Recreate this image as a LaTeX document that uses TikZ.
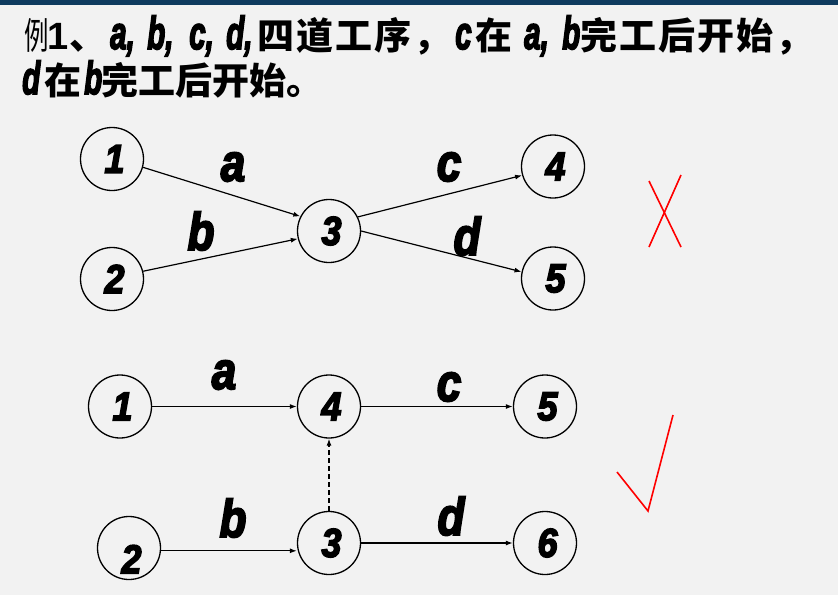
\documentclass[tikz,border=0pt]{standalone}
\usepackage{fontspec}
\usepackage{graphicx}
\usetikzlibrary{arrows.meta}
\newfontfamily\cjk{Noto Sans CJK SC}
\newfontface\labf{Liberation Sans Bold Italic}[FakeBold=4]
\newfontface\arialb{Liberation Sans Bold}
\definecolor{bg}{HTML}{F2F2F2}
\definecolor{barc}{HTML}{0F3B5F}
\newcommand\glab[1]{\scalebox{1}[1.2]{\fontsize{44}{44}\labf #1}}
\newcommand\tlat[1]{\scalebox{0.8}[1.25]{\fontsize{37}{37}\labf #1}}
\newcommand\cgap{\hspace{2pt}}
\newcommand\dg[1]{\hspace*{5pt}\scalebox{1}[1.12]{#1}}
\tikzset{
  ev/.style={circle, draw, line width=1.3pt, minimum size=63pt, inner sep=0pt,
    font=\fontsize{36}{36}\labf},
  arr/.style={line width=1.2pt, -{Latex[length=7pt,width=5pt]}},
  dsh/.style={line width=1.2pt, dash pattern=on 5pt off 3pt, -{Latex[length=7pt,width=5pt]}},
  lab/.style={inner sep=0pt},
  ttl/.style={anchor=base west, inner sep=0pt},
  cjkr/.style={ttl, font=\fontsize{37}{37}\cjk},
  cjkb/.style={ttl, font=\fontsize{37}{37}\cjk\bfseries},
  redmark/.style={red, line width=1.6pt}
}
\begin{document}
\begin{tikzpicture}[x=1pt,y=-1pt]
\fill[bg] (0,0) rectangle (838,595);
\useasboundingbox (0,0) rectangle (838,595);
\fill[barc] (0,0) rectangle (838,4.5);

% title line 1
\node[cjkr] (h1) at (24,49) {\scalebox{0.66}[1]{例}};
\node[ttl, font=\fontsize{38}{38}\arialb] (h2) at (47,49) {1};
\node[cjkb] (h3) at (69,49) {、};
\node[ttl] (h4) at (110,49) {\tlat{a,}};
\node[ttl] (h5) at (147,49) {\tlat{b,}};
\node[ttl] (h6) at (189,49) {\tlat{c,}};
\node[ttl] (h7) at (226,49) {\tlat{d,}};
\node[cjkb] (h8) at (257,49) {四\cgap 道\cgap 工\cgap 序\cgap ，};
\node[ttl] (h9) at (455,49) {\tlat{c}};
\node[cjkb] (h10) at (475,49) {在};
\node[ttl] (h11) at (524,49) {\tlat{a,}};
\node[ttl] (h12) at (562,49) {\tlat{b}};
\node[cjkb] (h13) at (580,49) {完\cgap 工\cgap 后\cgap 开\cgap 始\cgap ，};
% title line 2
\node[ttl] (g1) at (22,94) {\tlat{d}};
\node[cjkb] (g2) at (44,94) {在};
\node[ttl] (g3) at (84,94) {\tlat{b}};
\node[cjkb] (g4) at (101,94) {完工后开始。};

% top network
\node[ev] (t1) at (112,159) {\dg{1}};
\node[ev] (t2) at (112,279) {\dg{2}};
\node[ev] (t3) at (329,231) {\dg{3}};
\node[ev] (t4) at (553,166.5) {\dg{4}};
\node[ev] (t5) at (553,278.5) {\dg{5}};
\draw[arr] (t1.-15) -- (t3.153);
\draw[arr] (t2.14) -- (t3.194);
\draw[arr] (t3.26) -- (t4.196);
\draw[arr] (t3.0) -- (t5.168);
\node[lab] (la1) at (233,167) {\glab{a}};
\node[lab] (lb1) at (201,231) {\glab{b}};
\node[lab] (lc1) at (449,167) {\glab{c}};
\node[lab] (ld1) at (467,236) {\glab{d}};

% bottom network
\node[ev] (b1) at (120,406.5) {\dg{1}};
\node[ev] (b4) at (329,406.5) {\dg{4}};
\node[ev] (b5) at (545,406.5) {\dg{5}};
\node[ev] (b2) at (129,548) {\dg{\raisebox{-10pt}[\height][\depth]{2}}};
\node[ev] (b3) at (329,543) {\dg{3}};
\node[ev] (b6) at (545,543) {\dg{6}};
\draw[arr] (b1) -- (b4);
\draw[arr] (b4) -- (b5);
\draw[arr] (b2.-5) -- (b2.-5 -| b3.west);
\draw[arr] (b3) -- (b6);
\draw[dsh] (b3) -- (b4);
\node[lab] (la2) at (224,375) {\glab{a}};
\node[lab] (lc2) at (449,387) {\glab{c}};
\node[lab] (lb2) at (233,518) {\glab{b}};
\node[lab] (ld2) at (451,516) {\glab{d}};

% marks
\draw[redmark] (649,181) -- (681,247);
\draw[redmark] (681,175) -- (649,247);
\draw[redmark] (617,472) -- (648,511) -- (673,415);
\end{tikzpicture}
\end{document}
